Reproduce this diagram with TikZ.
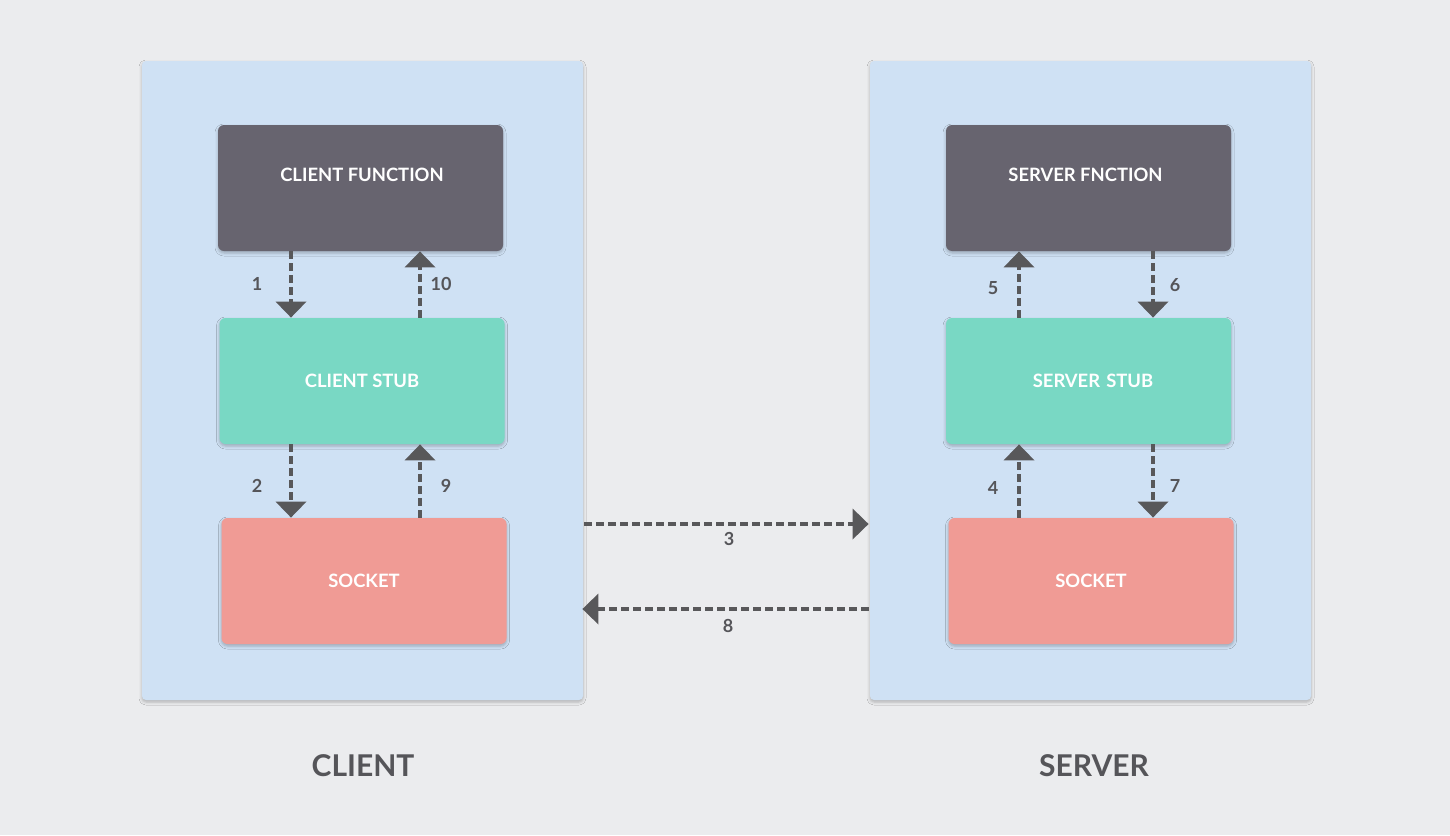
\documentclass[tikz,border=0pt]{standalone}
\usepackage{fontspec}
\setmainfont{Lato}
\usetikzlibrary{arrows.meta,calc,shadows.blur}
\definecolor{bgc}{HTML}{EBECEE}
\definecolor{panelc}{HTML}{CFE1F4}
\definecolor{funcc}{HTML}{67646F}
\definecolor{stubc}{HTML}{79D8C4}
\definecolor{sockc}{HTML}{F09B95}
\definecolor{arrc}{HTML}{58585A}
\definecolor{titlec}{HTML}{555559}
\tikzset{
  panel/.style={fill=panelc, draw=none, rounded corners=2pt, minimum width=220.5pt, minimum height=319.5pt, inner sep=0pt,
    blur shadow={shadow xshift=0pt, shadow yshift=-1pt, shadow blur radius=1.5pt, shadow opacity=25}},
  box/.style={draw=none, rounded corners=3pt, minimum width=142.5pt, minimum height=63pt, inner sep=0pt,
    text=white, font=\bfseries\fontsize{9.2}{10}\selectfont,
    blur shadow={shadow xshift=0pt, shadow yshift=-1pt, shadow blur radius=1.5pt, shadow opacity=25}},
  funcbox/.style={box, fill=funcc},
  stubbox/.style={box, fill=stubc},
  sockbox/.style={box, fill=sockc},
  arr/.style={draw=arrc, line width=2pt, dash pattern=on 4pt off 2pt, -{Triangle[width=15pt,length=8pt]}},
  num/.style={text=titlec, font=\bfseries\fontsize{9}{10}\selectfont, inner sep=0pt},
  ttl/.style={text=titlec, font=\bfseries\fontsize{15}{17}\selectfont, inner sep=0pt},
}
\begin{document}
\begin{tikzpicture}[x=0.5pt,y=-0.5pt]
\fill[bgc] (0,0) rectangle (1450,835);
\useasboundingbox (0,0) rectangle (1450,835);
% panels
\node[panel] (lp) at (362.5,380.5) {};
\node[panel] (rp) at (1090.5,380.5) {};
% client boxes
\node[funcbox, label={[text=white,font=\bfseries\fontsize{9.2}{10}\selectfont,yshift=6.5pt,xshift=0.75pt]center:CLIENT FUNCTION}] (cf) at (360.5,188) {};
\node[stubbox] (cs) at (362,381) {CLIENT STUB};
\node[sockbox] (ck) at (364,581) {SOCKET};
% server boxes
\node[funcbox, label={[text=white,font=\bfseries\fontsize{9.2}{10}\selectfont,yshift=6.5pt,xshift=-1.5pt]center:SERVER FNCTION}] (sf) at (1088.5,188) {};
\node[stubbox, text width=142.5pt, align=center] (ss) at (1088.5,381) {\hspace*{4.5pt}SERVER STUB};
\node[sockbox] (sk) at (1091,581) {SOCKET};
% client arrows
\draw[arr] ($(cf.south)+(-69.5,0)$) -- ($(cs.north)+(-71,0)$);
\draw[arr] ($(cs.north)+(58,0)$) -- ($(cf.south)+(59.5,0)$);
\draw[arr] ($(cs.south)+(-71,0)$) -- ($(ck.north)+(-73,0)$);
\draw[arr] ($(ck.north)+(56,0)$) -- ($(cs.south)+(58,0)$);
\node[num] (n1) at (257,284) {1};
\node[num] (n10) at (441,284) {10};
\node[num] (n2) at (257,486) {2};
\node[num] (n9) at (446,486) {9};
% server arrows
\draw[arr] ($(ss.north)+(-69.5,0)$) -- ($(sf.south)+(-69.5,0)$);
\draw[arr] ($(sf.south)+(64.5,0)$) -- ($(ss.north)+(64.5,0)$);
\draw[arr] ($(sk.north)+(-72,0)$) -- ($(ss.south)+(-69.5,0)$);
\draw[arr] ($(ss.south)+(64.5,0)$) -- ($(sk.north)+(62,0)$);
\node[num] (n5) at (993,288) {5};
\node[num] (n6) at (1175,285) {6};
\node[num] (n4) at (993,488) {4};
\node[num] (n7) at (1175,486) {7};
% network arrows
\draw[arr] ($(lp.east)+(1,143.5)$) -- ($(rp.west)+(-1,143.5)$);
\draw[arr] ($(rp.west)+(-1,228.5)$) -- ($(lp.east)+(-1,228.5)$);
\node[num] (n3) at (729,539) {3};
\node[num] (n8) at (728,626) {8};
% titles
\node[ttl] (tc) at (363,766) {CLIENT};
\node[ttl] (ts) at (1094,766) {SERVER};
\end{tikzpicture}
\end{document}
